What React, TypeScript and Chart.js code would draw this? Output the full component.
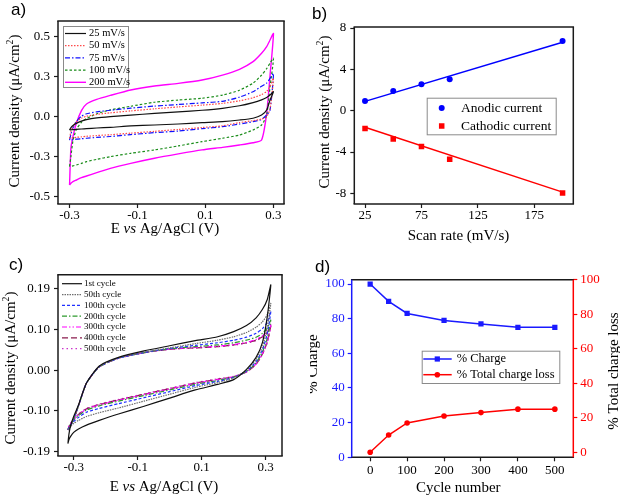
import React, { useEffect, useRef } from 'react';
import { Chart, registerables } from 'chart.js';

Chart.register(...registerables);

const SERIF = '"Liberation Serif", "Times New Roman", serif';
const SANS = '"Liberation Sans", Arial, sans-serif';

// ---------------- Panel a: CV at different scan rates ----------------
const potentialA = [-0.3, -0.296, -0.29, -0.28, -0.265, -0.25, -0.22, -0.18, -0.12, -0.05, 0.02, 0.09, 0.15, 0.2, 0.24, 0.265, 0.28, 0.29, 0.3];
const rate25Fwd = [-0.083, -0.068, -0.055, -0.042, -0.028, -0.018, -0.008, 0.0, 0.01, 0.02, 0.03, 0.04, 0.052, 0.068, 0.088, 0.105, 0.12, 0.135, 0.156];
const rate25Rev = [-0.083, -0.083, -0.081, -0.079, -0.077, -0.075, -0.071, -0.067, -0.058, -0.052, -0.046, -0.0375, -0.031, -0.021, -0.01, 0.01, 0.042, 0.104, 0.156];
const rate50Fwd = [-0.135, -0.095, -0.062, -0.032, -0.01, 0.003, 0.014, 0.024, 0.036, 0.049, 0.061, 0.072, 0.083, 0.099, 0.118, 0.138, 0.158, 0.188, 0.24];
const rate50Rev = [-0.135, -0.134, -0.132, -0.129, -0.126, -0.123, -0.118, -0.113, -0.103, -0.092, -0.08, -0.068, -0.057, -0.037, -0.025, -0.015, 0.0, 0.05, 0.24];
const rate75Fwd = [-0.146, -0.11, -0.07, -0.03, 0.003, 0.018, 0.03, 0.04, 0.053, 0.066, 0.076, 0.086, 0.096, 0.122, 0.156, 0.19, 0.21, 0.24, 0.271];
const rate75Rev = [-0.146, -0.146, -0.145, -0.141, -0.138, -0.135, -0.13, -0.124, -0.112, -0.1, -0.09, -0.075, -0.0625, -0.046, -0.031, -0.017, 0.01, 0.042, 0.271];
const rate100Fwd = [-0.31, -0.25, -0.15, -0.08, -0.035, -0.012, 0.018, 0.042, 0.065, 0.09, 0.104, 0.115, 0.135, 0.165, 0.21, 0.26, 0.3, 0.335, 0.365];
const rate100Rev = [-0.31, -0.3125, -0.308, -0.302, -0.292, -0.281, -0.267, -0.25, -0.229, -0.208, -0.183, -0.156, -0.135, -0.115, -0.083, -0.052, 0.01, 0.1875, 0.365];
const rate200Fwd = [-0.427, -0.198, -0.125, -0.042, 0.0375, 0.079, 0.108, 0.133, 0.167, 0.192, 0.208, 0.229, 0.26, 0.296, 0.344, 0.396, 0.4375, 0.479, 0.52];
const rate200Rev = [-0.427, -0.417, -0.406, -0.396, -0.381, -0.371, -0.35, -0.323, -0.292, -0.26, -0.233, -0.208, -0.192, -0.177, -0.163, -0.146, 0.021, 0.26, 0.52];
const aXTicks = [-0.3, -0.1, 0.1, 0.3];
const aXTickLabels = ['-0.3', '-0.1', '0.1', '0.3'];
const aYTicks = [-0.5, -0.25, 0, 0.25, 0.5];
const aYTickLabels = ['-0.5', '-0.3', '0.0', '0.3', '0.5'];

// ---------------- Panel b: peak current vs scan rate ----------------
const scanRates = [25, 50, 75, 100, 200];
const anodicCurrent = [0.94, 1.91, 2.56, 3.04, 6.74];
const cathodicCurrent = [-1.72, -2.75, -3.47, -4.7, -7.97];
const fitRates = [25, 200];
const anodicFit = [0.9, 6.62];
const cathodicFit = [-1.6, -7.88];
const bXTicks = [25, 75, 125, 175];
const bXTickLabels = ['25', '75', '125', '175'];
const bYTicks = [-8, -4, 0, 4, 8];
const bYTickLabels = ['-8', '-4', '0', '4', '8'];

// ---------------- Panel c: CV over cycles ----------------
const potentialC = [-0.318, -0.315, -0.31, -0.3, -0.285, -0.26, -0.22, -0.16, -0.08, 0, 0.08, 0.15, 0.2, 0.24, 0.27, 0.29, 0.305, 0.316];
const cyc1Fwd = [-0.171, -0.15, -0.13, -0.108, -0.081, -0.03, 0.01, 0.03, 0.045, 0.057, 0.069, 0.078, 0.09, 0.104, 0.122, 0.142, 0.165, 0.199];
const cyc1Rev = [-0.171, -0.162, -0.155, -0.145, -0.137, -0.128, -0.117, -0.102, -0.084, -0.065, -0.046, -0.033, -0.022, 0.002, 0.03, 0.065, 0.125, 0.199];
const cyc50Fwd = [-0.139, -0.136, -0.131, -0.114, -0.083, -0.03, 0.008, 0.029, 0.042, 0.052, 0.062, 0.07, 0.078, 0.088, 0.1, 0.113, 0.13, 0.156];
const cyc50Rev = [-0.139, -0.135, -0.131, -0.124, -0.117, -0.108, -0.099, -0.088, -0.072, -0.056, -0.04, -0.029, -0.018, 0.0, 0.025, 0.055, 0.1, 0.156];
const cyc100Fwd = [-0.139, -0.136, -0.131, -0.114, -0.083, -0.03, 0.008, 0.028, 0.041, 0.051, 0.058, 0.064, 0.07, 0.077, 0.086, 0.097, 0.112, 0.137];
const cyc100Rev = [-0.139, -0.134, -0.128, -0.12, -0.11, -0.098, -0.089, -0.078, -0.064, -0.05, -0.036, -0.026, -0.017, -0.002, 0.02, 0.048, 0.085, 0.137];
const cyc200Fwd = [-0.139, -0.136, -0.131, -0.114, -0.083, -0.03, 0.008, 0.028, 0.041, 0.05, 0.055, 0.059, 0.064, 0.07, 0.077, 0.086, 0.098, 0.117];
const cyc200Rev = [-0.139, -0.133, -0.126, -0.117, -0.106, -0.093, -0.083, -0.072, -0.059, -0.046, -0.033, -0.024, -0.016, -0.003, 0.017, 0.043, 0.075, 0.117];
const cyc300Fwd = [-0.139, -0.136, -0.131, -0.114, -0.083, -0.03, 0.008, 0.028, 0.041, 0.049, 0.053, 0.056, 0.06, 0.065, 0.072, 0.08, 0.09, 0.107];
const cyc300Rev = [-0.139, -0.132, -0.125, -0.115, -0.104, -0.091, -0.081, -0.07, -0.057, -0.044, -0.031, -0.022, -0.015, -0.004, 0.015, 0.039, 0.068, 0.107];
const cyc400Fwd = [-0.139, -0.136, -0.131, -0.114, -0.083, -0.03, 0.008, 0.028, 0.041, 0.049, 0.052, 0.055, 0.059, 0.064, 0.07, 0.078, 0.088, 0.104];
const cyc400Rev = [-0.139, -0.132, -0.125, -0.115, -0.103, -0.09, -0.08, -0.069, -0.056, -0.043, -0.03, -0.021, -0.015, -0.004, 0.014, 0.038, 0.066, 0.104];
const cyc500Fwd = [-0.139, -0.136, -0.131, -0.114, -0.083, -0.03, 0.008, 0.028, 0.041, 0.049, 0.052, 0.055, 0.058, 0.063, 0.069, 0.077, 0.086, 0.102];
const cyc500Rev = [-0.139, -0.131, -0.124, -0.114, -0.102, -0.089, -0.079, -0.068, -0.055, -0.042, -0.029, -0.02, -0.014, -0.004, 0.014, 0.037, 0.064, 0.102];
const cXTicks = [-0.3, -0.1, 0.1, 0.3];
const cXTickLabels = ['-0.3', '-0.1', '0.1', '0.3'];
const cYTicks = [-0.19, -0.095, 0, 0.095, 0.19];
const cYTickLabels = ['-0.19', '-0.10', '0.00', '0.10', '0.19'];

// ---------------- Panel d: stability ----------------
const cycleNumbers = [0, 50, 100, 200, 300, 400, 500];
const chargePercent = [100, 90, 83, 79, 77, 75, 75];
const chargeLossPercent = [0, 10, 17, 21, 23, 25, 25];
const dXTicks = [0, 100, 200, 300, 400, 500];
const dXTickLabels = ['0', '100', '200', '300', '400', '500'];
const dYTicks = [0, 20, 40, 60, 80, 100];
const dYTickLabels = ['0', '20', '40', '60', '80', '100'];

// ---------------- helpers ----------------
type Part = { t: string; italic?: boolean; sup?: boolean };
type TextItem = { parts: Part[]; x: number; y: number; size?: number; family?: string; color?: string; rotate?: boolean; align?: 'left' | 'center' };

const xTitleCV: Part[] = [{ t: 'E ' }, { t: 'vs', italic: true }, { t: ' Ag/AgCl (V)' }];
const yTitleCD: Part[] = [{ t: 'Current density (\u03bcA/cm' }, { t: '2', sup: true }, { t: ')' }];

function drawRich(ctx: CanvasRenderingContext2D, item: TextItem) {
  const size = item.size || 15;
  const fam = item.family || SERIF;
  const fontFor = (p: Part) => `${p.italic ? 'italic ' : ''}${p.sup ? size * 0.65 : size}px ${fam}`;
  let total = 0;
  const widths = item.parts.map((p) => {
    ctx.font = fontFor(p);
    const w = ctx.measureText(p.t).width;
    total += w;
    return w;
  });
  ctx.save();
  ctx.translate(item.x, item.y);
  if (item.rotate) ctx.rotate(-Math.PI / 2);
  ctx.fillStyle = item.color || '#000';
  ctx.textBaseline = 'middle';
  ctx.textAlign = 'left';
  let x = item.align === 'left' ? 0 : -total / 2;
  item.parts.forEach((p, i) => {
    ctx.font = fontFor(p);
    ctx.fillText(p.t, x, p.sup ? -size * 0.33 : 0);
    x += widths[i];
  });
  ctx.restore();
}

function drawMarker(ctx: CanvasRenderingContext2D, style: string, x: number, y: number, r: number, color: string) {
  ctx.fillStyle = color;
  ctx.beginPath();
  if (style === 'rect') {
    const s = Math.SQRT1_2 * r;
    ctx.rect(x - s, y - s, 2 * s, 2 * s);
  } else {
    ctx.arc(x, y, r, 0, Math.PI * 2);
  }
  ctx.fill();
}

function drawLegend(chart: any, L: any) {
  const ctx: CanvasRenderingContext2D = chart.ctx;
  ctx.save();
  if (L.box) {
    ctx.fillStyle = '#fff';
    ctx.fillRect(L.box[0], L.box[1], L.box[2], L.box[3]);
    ctx.strokeStyle = '#8a8a8a';
    ctx.lineWidth = 1;
    ctx.strokeRect(L.box[0] + 0.5, L.box[1] + 0.5, L.box[2], L.box[3]);
  }
  L.items.forEach((di: number, row: number) => {
    const ds = chart.data.datasets[di];
    const y = L.y + row * L.rowH;
    if (L.line) {
      ctx.strokeStyle = ds.borderColor;
      ctx.lineWidth = ds.borderWidth;
      ctx.setLineDash(ds.borderDash || []);
      ctx.beginPath();
      ctx.moveTo(L.x, y);
      ctx.lineTo(L.x + L.sampleW, y);
      ctx.stroke();
      ctx.setLineDash([]);
    }
    if (L.marker) {
      drawMarker(ctx, ds.pointStyle, L.markerX, y, ds.pointRadius, ds.pointBackgroundColor);
    }
    ctx.fillStyle = '#000';
    ctx.font = `${L.size}px ${SERIF}`;
    ctx.textBaseline = 'middle';
    ctx.textAlign = 'left';
    ctx.fillText(ds.label, L.textX, y);
  });
  ctx.restore();
}

const decorPlugin = {
  id: 'decor',
  afterDatasetsDraw(chart: any, _args: any, opts: any) {
    const ctx: CanvasRenderingContext2D = chart.ctx;
    const a = chart.chartArea;
    if (opts.legend) drawLegend(chart, opts.legend);
    ctx.save();
    const lw = 1.5;
    ctx.lineWidth = lw;
    const fc = opts.frameColor || '#1a1a1a';
    const seg = (x1: number, y1: number, x2: number, y2: number, c: string) => {
      ctx.strokeStyle = c;
      ctx.beginPath();
      ctx.moveTo(x1, y1);
      ctx.lineTo(x2, y2);
      ctx.stroke();
    };
    seg(a.left - lw / 2, a.top, a.right + lw / 2, a.top, fc);
    seg(a.left - lw / 2, a.bottom, a.right + lw / 2, a.bottom, fc);
    seg(a.left, a.top, a.left, a.bottom, opts.leftColor || fc);
    seg(a.right, a.top, a.right, a.bottom, opts.rightColor || fc);
    ctx.restore();
    for (const t of opts.texts || []) drawRich(ctx, t);
  },
};

function makeAxis(o: { min: number; max: number; ticks: number[]; labels: string[]; fit: number; horizontal: boolean; color?: string; position?: string; padding?: number }) {
  const color = o.color || '#1a1a1a';
  return {
    type: 'linear',
    position: o.position || (o.horizontal ? 'bottom' : 'left'),
    min: o.min,
    max: o.max,
    afterBuildTicks: (s: any) => {
      s.ticks = o.ticks.map((v) => ({ value: v }));
    },
    afterFit: (s: any) => {
      if (o.horizontal) s.height = o.fit;
      else s.width = o.fit;
    },
    ticks: {
      autoSkip: false,
      maxRotation: 0,
      padding: o.padding ?? 3,
      color: o.color || '#000',
      font: { family: SERIF, size: 13 },
      callback: (_v: any, i: number) => o.labels[i],
    },
    grid: { display: true, drawOnChartArea: false, drawTicks: true, tickLength: 4, tickColor: color, tickWidth: 1.2, color },
    border: { display: false },
  };
}

function loop(xs: number[], fwd: number[], rev: number[]) {
  const pts = xs.map((x, i) => ({ x, y: fwd[i] }));
  for (let i = xs.length - 2; i >= 0; i--) pts.push({ x: xs[i], y: rev[i] });
  return pts;
}

function cvSet(label: string, xs: number[], fwd: number[], rev: number[], color: string, dash: number[], width = 1.2) {
  return {
    label,
    data: loop(xs, fwd, rev),
    showLine: true,
    borderColor: color,
    backgroundColor: color,
    borderWidth: width,
    borderDash: dash,
    pointRadius: 0,
    tension: 0.2,
    fill: false,
  };
}

const baseOptions = (padding: any) => ({
  animation: false,
  responsive: false,
  events: [],
  layout: { padding },
  plugins: { legend: { display: false }, tooltip: { enabled: false } },
});

function configA() {
  const datasets = [
    cvSet('25 mV/s', potentialA, rate25Fwd, rate25Rev, '#111111', []),
    cvSet('50 mV/s', potentialA, rate50Fwd, rate50Rev, '#ff4a4a', [1.5, 1.5]),
    cvSet('75 mV/s', potentialA, rate75Fwd, rate75Rev, '#1010ff', [5, 2, 1.5, 2]),
    cvSet('100 mV/s', potentialA, rate100Fwd, rate100Rev, '#1a8c1a', [2.5, 2]),
    cvSet('200 mV/s', potentialA, rate200Fwd, rate200Rev, '#ff00ff', [], 1.4),
  ];
  const base: any = baseOptions({ left: 0, top: 21, right: 26, bottom: 0 });
  base.plugins.decor = {
    legend: { box: [63, 26, 65, 61], items: [0, 1, 2, 3, 4], x: 65, sampleW: 21, y: 33.5, rowH: 12.2, textX: 89, size: 10.5, line: true },
    texts: [
      { parts: [{ t: 'a)' }], x: 11, y: 10, size: 17, family: SANS, align: 'left' },
      { parts: yTitleCD, x: 15, y: 111, rotate: true },
      { parts: xTitleCV, x: 165, y: 229 },
    ],
  };
  return {
    type: 'scatter',
    data: { datasets },
    options: {
      ...base,
      scales: {
        x: makeAxis({ min: -0.334, max: 0.331, ticks: aXTicks, labels: aXTickLabels, fit: 44, horizontal: true, padding: 0 }),
        y: makeAxis({ min: -0.546, max: 0.598, ticks: aYTicks, labels: aYTickLabels, fit: 58, horizontal: false, padding: 4 }),
      },
    },
    plugins: [decorPlugin],
  };
}

function configB() {
  const pts = (xs: number[], ys: number[]) => xs.map((x, i) => ({ x, y: ys[i] }));
  const datasets = [
    { label: 'Anodic current', data: pts(scanRates, anodicCurrent), pointStyle: 'circle', pointRadius: 3, pointBackgroundColor: '#0000ff', pointBorderWidth: 0, borderColor: '#0000ff', showLine: false },
    { label: 'Cathodic current', data: pts(scanRates, cathodicCurrent), pointStyle: 'rect', pointRadius: 3.9, pointBackgroundColor: '#ff0000', pointBorderWidth: 0, borderColor: '#ff0000', showLine: false },
    { label: 'Anodic fit', data: pts(fitRates, anodicFit), showLine: true, borderColor: '#0000ff', borderWidth: 1.5, pointRadius: 0 },
    { label: 'Cathodic fit', data: pts(fitRates, cathodicFit), showLine: true, borderColor: '#ff0000', borderWidth: 1.5, pointRadius: 0 },
  ];
  const base: any = baseOptions({ left: 0, top: 27, right: 46.7, bottom: 0 });
  base.plugins.decor = {
    legend: { box: [116.7, 97.7, 129, 36.6], items: [0, 1], y: 108, rowH: 18, markerX: 131.7, textX: 151, size: 13.5, marker: true },
    texts: [
      { parts: [{ t: 'b)' }], x: 2, y: 14, size: 17, family: SANS, align: 'left' },
      { parts: yTitleCD, x: 15, y: 112, rotate: true },
      { parts: [{ t: 'Scan rate (mV/s)' }], x: 148.5, y: 236 },
    ],
  };
  return {
    type: 'scatter',
    data: { datasets },
    options: {
      ...base,
      scales: {
        x: makeAxis({ min: 15.5, max: 209.5, ticks: bXTicks, labels: bXTickLabels, fit: 44, horizontal: true, padding: 0 }),
        y: makeAxis({ min: -9.03, max: 8.1, ticks: bYTicks, labels: bYTickLabels, fit: 44.3, horizontal: false, padding: 4 }),
      },
    },
    plugins: [decorPlugin],
  };
}

function configC() {
  const datasets = [
    cvSet('1st cycle', potentialC, cyc1Fwd, cyc1Rev, '#111111', []),
    cvSet('50th cycle', potentialC, cyc50Fwd, cyc50Rev, '#6e6e6e', [1.5, 1]),
    cvSet('100th cycle', potentialC, cyc100Fwd, cyc100Rev, '#2030ff', [3, 2]),
    cvSet('200th cycle', potentialC, cyc200Fwd, cyc200Rev, '#2e9a2e', [5, 2, 1.5, 2]),
    cvSet('300th cycle', potentialC, cyc300Fwd, cyc300Rev, '#ff00ff', [5, 2, 1.5, 2, 1.5, 2]),
    cvSet('400th cycle', potentialC, cyc400Fwd, cyc400Rev, '#8a1c4e', [6, 3]),
    cvSet('500th cycle', potentialC, cyc500Fwd, cyc500Rev, '#cc33cc', [1.5, 3]),
  ];
  const base: any = baseOptions({ left: 0, top: 26.7, right: 28, bottom: 0 });
  base.plugins.decor = {
    legend: { items: [0, 1, 2, 3, 4, 5, 6], x: 62, sampleW: 20, y: 35.7, rowH: 10.83, textX: 84, size: 9, line: true },
    texts: [
      { parts: [{ t: 'c)' }], x: 9, y: 17, size: 17, family: SANS, align: 'left' },
      { parts: yTitleCD, x: 11, y: 120, rotate: true },
      { parts: xTitleCV, x: 164, y: 239 },
    ],
  };
  return {
    type: 'scatter',
    data: { datasets },
    options: {
      ...base,
      scales: {
        x: makeAxis({ min: -0.349, max: 0.351, ticks: cXTicks, labels: cXTickLabels, fit: 42, horizontal: true, padding: 0 }),
        y: makeAxis({ min: -0.2, max: 0.2227, ticks: cYTicks, labels: cYTickLabels, fit: 58, horizontal: false, padding: 4 }),
      },
    },
    plugins: [decorPlugin],
  };
}

function configD() {
  const pts = (xs: number[], ys: number[]) => xs.map((x, i) => ({ x, y: ys[i] }));
  const datasets = [
    { label: '% Charge', data: pts(cycleNumbers, chargePercent), yAxisID: 'y', showLine: true, borderColor: '#1a1aff', borderWidth: 1.5, pointStyle: 'rect', pointRadius: 3.7, pointBackgroundColor: '#1a1aff', pointBorderWidth: 0 },
    { label: '% Total charge loss', data: pts(cycleNumbers, chargeLossPercent), yAxisID: 'y2', showLine: true, borderColor: '#ff0000', borderWidth: 1.5, pointStyle: 'circle', pointRadius: 2.8, pointBackgroundColor: '#ff0000', pointBorderWidth: 0 },
  ];
  const base: any = baseOptions({ left: 0, top: 31.7, right: 0, bottom: 0 });
  base.plugins.decor = {
    leftColor: '#1a1aff',
    rightColor: '#ff0000',
    legend: { box: [111.7, 102.7, 137.6, 32.3], items: [0, 1], x: 113.3, sampleW: 28.4, y: 111, rowH: 15.7, markerX: 127.3, textX: 146.7, size: 12.5, line: true, marker: true },
    texts: [
      { parts: [{ t: 'd)' }], x: 5, y: 19, size: 17, family: SANS, align: 'left' },
      { parts: [{ t: '% Charge' }], x: 3, y: 116, rotate: true },
      { parts: [{ t: '% Total charge loss' }], x: 304.5, y: 123, rotate: true },
      { parts: [{ t: 'Cycle number' }], x: 148.3, y: 240 },
    ],
  };
  return {
    type: 'scatter',
    data: { datasets },
    options: {
      ...base,
      scales: {
        x: makeAxis({ min: -50, max: 550, ticks: dXTicks, labels: dXTickLabels, fit: 40.7, horizontal: true, padding: 1 }),
        y: makeAxis({ min: 0, max: 102.5, ticks: dYTicks, labels: dYTickLabels, fit: 41.7, horizontal: false, color: '#1a1aff', padding: 3 }),
        y2: makeAxis({ min: -2.9, max: 100, ticks: dYTicks, labels: dYTickLabels, fit: 46.7, horizontal: false, color: '#ff0000', position: 'right', padding: 3 }),
      },
    },
    plugins: [decorPlugin],
  };
}

function ChartBox({ left, top, width, height, make }: { left: number; top: number; width: number; height: number; make: () => any }) {
  const ref = useRef<HTMLCanvasElement | null>(null);
  useEffect(() => {
    if (!ref.current) return;
    const chart = new Chart(ref.current, make());
    return () => chart.destroy();
  }, []);
  return <canvas ref={ref} width={width} height={height} style={{ position: 'absolute', left, top, width, height }} />;
}

export default function App() {
  return (
    <div style={{ position: 'fixed', left: 0, top: 0, width: 620, height: 498, background: '#fff', overflow: 'hidden' }}>
      <ChartBox left={0} top={0} width={310} height={248} make={configA} />
      <ChartBox left={310} top={0} width={310} height={248} make={configB} />
      <ChartBox left={0} top={248} width={310} height={250} make={configC} />
      <ChartBox left={310} top={248} width={310} height={250} make={configD} />
    </div>
  );
}
